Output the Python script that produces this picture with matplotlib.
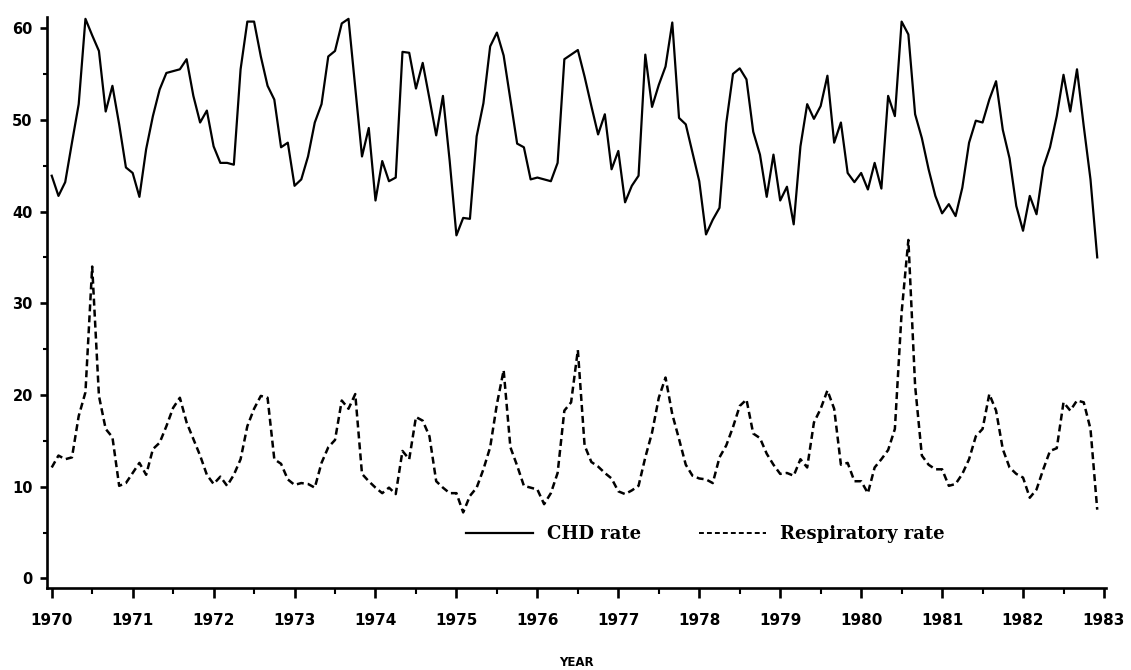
import numpy as np
import matplotlib.pyplot as plt
from matplotlib.lines import Line2D

# monthly rates, Jan 1970 .. Dec 1982 (one row per year)
chd_rate = [
    43.9, 41.7, 43.2, 47.5, 51.7, 61.0, 59.2, 57.5, 50.9, 53.7, 49.5, 44.8,
    44.2, 41.6, 46.8, 50.4, 53.3, 55.1, 55.3, 55.5, 56.6, 52.6, 49.7, 51.0,
    47.1, 45.3, 45.3, 45.1, 55.5, 60.7, 60.7, 56.9, 53.7, 52.2, 47.0, 47.5,
    42.8, 43.5, 46.0, 49.7, 51.7, 56.9, 57.5, 60.5, 61.0, 53.5, 46.0, 49.1,
    41.2, 45.5, 43.3, 43.7, 57.4, 57.3, 53.4, 56.2, 52.3, 48.3, 52.6, 45.5,
    37.4, 39.3, 39.2, 48.2, 51.8, 58.0, 59.5, 57.0, 52.2, 47.4, 47.0, 43.5,
    43.7, 43.5, 43.3, 45.3, 56.6, 57.1, 57.6, 54.7, 51.5, 48.4, 50.6, 44.6,
    46.6, 41.0, 42.8, 43.9, 57.1, 51.4, 53.8, 55.8, 60.6, 50.2, 49.5, 46.4,
    43.3, 37.5, 39.1, 40.4, 49.6, 55.0, 55.6, 54.4, 48.7, 46.2, 41.6, 46.2,
    41.2, 42.7, 38.6, 47.1, 51.7, 50.1, 51.5, 54.8, 47.5, 49.7, 44.2, 43.2,
    44.2, 42.4, 45.3, 42.5, 52.6, 50.4, 60.7, 59.3, 50.6, 48.0, 44.6, 41.7,
    39.8, 40.8, 39.5, 42.6, 47.5, 49.9, 49.7, 52.2, 54.2, 48.9, 45.8, 40.6,
    37.9, 41.7, 39.7, 44.8, 47.0, 50.4, 54.9, 50.9, 55.5, 49.3, 43.5, 35.0,
]

resp_rate = [
    12.1, 13.4, 13.0, 13.2, 17.7, 20.3, 34.0, 19.9, 16.3, 15.4, 10.1, 10.4,
    11.5, 12.6, 11.3, 14.1, 14.8, 16.6, 18.6, 19.7, 17.0, 15.2, 13.4, 11.3,
    10.3, 11.1, 10.1, 11.3, 13.0, 16.6, 18.5, 19.9, 19.7, 13.0, 12.5, 10.8,
    10.2, 10.4, 10.3, 9.9, 12.6, 14.3, 15.1, 19.4, 18.5, 20.1, 11.4, 10.6,
    9.9, 9.3, 9.9, 9.2, 13.9, 13.0, 17.6, 17.2, 15.5, 10.6, 9.9, 9.3,
    9.3, 7.2, 9.0, 9.9, 11.9, 14.3, 19.0, 22.7, 14.3, 12.3, 10.1, 9.9,
    9.7, 8.1, 9.3, 11.5, 18.3, 19.2, 24.9, 14.5, 12.7, 12.2, 11.5, 10.9,
    9.5, 9.2, 9.6, 10.1, 13.2, 15.9, 19.7, 21.9, 17.9, 15.2, 12.4, 11.2,
    10.9, 10.8, 10.4, 13.2, 14.5, 16.5, 18.8, 19.5, 15.8, 15.3, 13.6, 12.4,
    11.4, 11.5, 11.2, 13.0, 12.1, 17.0, 18.5, 20.5, 18.5, 12.4, 12.6, 10.6,
    10.6, 9.3, 12.1, 13.0, 14.0, 16.3, 29.0, 36.9, 21.0, 13.4, 12.4, 11.9,
    11.9, 10.1, 10.3, 11.4, 13.0, 15.5, 16.3, 20.1, 18.3, 14.1, 12.1, 11.4,
    11.0, 8.8, 9.7, 11.9, 13.9, 14.2, 19.2, 18.3, 19.4, 19.2, 16.3, 7.5,
]

start_year = 1970
year_ticks = list(range(1970, 1984))
y_ticks = [0, 10, 20, 30, 40, 50, 60]

t = start_year + np.arange(len(chd_rate)) / 12.0

W, H = 1131, 670
fig = plt.figure(figsize=(W / 100, H / 100), dpi=100)
# axes box in pixels: left spine x=46.7, bottom spine y=588.3
ax = fig.add_axes([46.7 / W, 1 - 588.3 / H, 1059.3 / W, 571.3 / H])

ax.plot(t, chd_rate, color="black", lw=1.6)
ax.plot(t, resp_rate, color="black", lw=1.8, ls=(0, (2.8, 1.6)))

ax.set_xlim(1969.938, 1983.025)
ax.set_ylim(-1.07, 61.2)

for s in ["top", "right"]:
    ax.spines[s].set_visible(False)
for s in ["left", "bottom"]:
    ax.spines[s].set_linewidth(1.9)

ax.set_xticks(year_ticks)
ax.set_xticklabels([str(y) for y in year_ticks])
ax.set_xticks(np.array(year_ticks[:-1]) + 0.5, minor=True)
ax.set_yticks(y_ticks)
ax.set_yticklabels([str(v) for v in y_ticks])
ax.set_yticks([5, 15, 25, 35, 45, 55], minor=True)

ax.tick_params(axis="x", which="major", direction="out", length=7.5, width=1.9,
               pad=10.5, labelsize=11)
ax.tick_params(axis="x", which="minor", direction="out", length=4, width=1.5)
ax.tick_params(axis="y", which="major", direction="out", length=5, width=1.9,
               pad=5, labelsize=10.5)
ax.tick_params(axis="y", which="minor", direction="out", length=3, width=1.5)
for lab in ax.get_xticklabels() + ax.get_yticklabels():
    lab.set_fontweight("bold")

ax.set_xlabel("YEAR", fontsize=8.5, fontweight="bold")
ax.xaxis.set_label_coords(0.5, -0.118)

handles = [
    Line2D([], [], color="black", lw=1.6),
    Line2D([], [], color="black", lw=1.4, ls=(0, (2.5, 1.6))),
]
ax.legend(handles, ["CHD rate", "Respiratory rate"], ncol=2,
          loc="center left",
          bbox_to_anchor=((457 - 46.7) / 1059.3, (588.3 - 534) / 571.3),
          frameon=False, borderpad=0, handlelength=3.7, handletextpad=0.8,
          columnspacing=3.2,
          prop={"family": "DejaVu Serif", "weight": "bold", "size": 13})

fig.savefig("out.png", dpi=100)
